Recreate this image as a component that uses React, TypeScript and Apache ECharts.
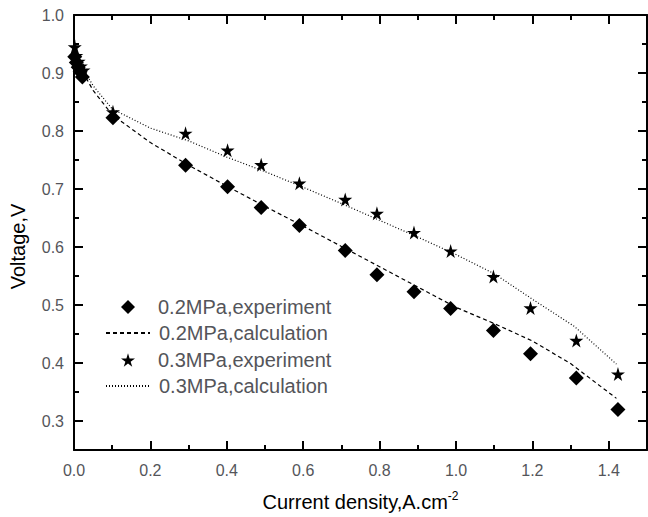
import React, { useEffect, useRef } from "react";
import * as echarts from "echarts";

const exp02X = [0.002, 0.006, 0.011, 0.016, 0.022, 0.102, 0.292, 0.402, 0.49, 0.59, 0.71, 0.793, 0.89, 0.986, 1.098, 1.195, 1.315, 1.424];
const exp02Y = [0.928, 0.918, 0.91, 0.902, 0.893, 0.823, 0.741, 0.704, 0.668, 0.637, 0.594, 0.552, 0.523, 0.494, 0.456, 0.416, 0.374, 0.32];

const exp03X = [0.002, 0.006, 0.012, 0.018, 0.025, 0.102, 0.292, 0.402, 0.49, 0.59, 0.71, 0.793, 0.89, 0.986, 1.098, 1.195, 1.315, 1.424];
const exp03Y = [0.945, 0.93, 0.92, 0.912, 0.905, 0.833, 0.796, 0.767, 0.742, 0.71, 0.682, 0.658, 0.625, 0.593, 0.549, 0.495, 0.439, 0.381];

const calc02X = [0, 0.01, 0.02, 0.05, 0.1, 0.2, 0.3, 0.4, 0.5, 0.6, 0.7, 0.8, 0.9, 1.0, 1.1, 1.2, 1.3, 1.42];
const calc02Y = [0.96, 0.925, 0.905, 0.87, 0.828, 0.78, 0.741, 0.705, 0.67, 0.636, 0.601, 0.566, 0.531, 0.496, 0.468, 0.438, 0.399, 0.339];

const calc03X = [0, 0.01, 0.02, 0.05, 0.1, 0.2, 0.3, 0.4, 0.5, 0.6, 0.7, 0.8, 0.9, 1.0, 1.1, 1.2, 1.31, 1.42];
const calc03Y = [0.962, 0.93, 0.912, 0.878, 0.838, 0.805, 0.783, 0.755, 0.73, 0.703, 0.675, 0.646, 0.617, 0.587, 0.554, 0.51, 0.463, 0.398];

const seriesNames = ["0.2MPa,experiment", "0.2MPa,calculation", "0.3MPa,experiment", "0.3MPa,calculation"];

const xLabels = [0, 0.2, 0.4, 0.6, 0.8, 1.0, 1.2, 1.4];
const yMajor = [0.3, 0.4, 0.5, 0.6, 0.7, 0.8, 0.9, 1.0];
const yMinor = [0.25, 0.35, 0.45, 0.55, 0.65, 0.75, 0.85, 0.95];

const STAR = "path://M50,0 L61,35 L98,35 L68,57 L79,91 L50,70 L21,91 L32,57 L2,35 L39,35 Z";
const FONT = "Liberation Sans";

const zip = (xs: number[], ys: number[]) => xs.map((x, i) => [x, ys[i]]);

export default function App() {
  const ref = useRef<HTMLDivElement>(null);
  useEffect(() => {
    if (!ref.current) return;
    const chart = echarts.init(ref.current, undefined, { renderer: "svg" });
    const xAxisOf = (pos: string, labels: boolean) => ({
      type: "value",
      position: pos,
      min: 0,
      max: 1.5,
      interval: 0.2,
      axisLine: { show: true, onZero: false, lineStyle: { color: "#000", width: 2 } },
      axisTick: { show: true, inside: true, length: 9, lineStyle: { color: "#000", width: 2 } },
      minorTick: { show: true, splitNumber: 2, length: 5, lineStyle: { color: "#000", width: 2 } },
      splitLine: { show: false },
      axisLabel: labels
        ? { show: true, margin: 12, fontSize: 16, customValues: xLabels, formatter: (v: number) => v.toFixed(1) }
        : { show: false },
    });
    const yAxisOf = (pos: string, major: boolean, labels: boolean) => ({
      type: "value",
      position: pos,
      min: 0.25,
      max: 1.0,
      splitLine: { show: false },
      axisLine: { show: major, onZero: false, lineStyle: { color: "#000", width: 2 } },
      axisTick: {
        show: true,
        inside: true,
        length: major ? 9 : 5,
        lineStyle: { color: "#000", width: 2 },
        customValues: major ? yMajor : yMinor,
      },
      axisLabel: labels
        ? { show: true, margin: 10, fontSize: 16, customValues: yMajor, formatter: (v: number) => v.toFixed(1) }
        : { show: false, customValues: yMajor },
    });
    const rowTops = [297, 323, 350, 376];
    const legends = seriesNames.map((n, i) => {
      const isScatter = i % 2 === 0;
      return {
        orient: "vertical",
        left: isScatter ? 121 : 105,
        top: rowTops[i],
        padding: 0,
        itemWidth: isScatter ? 14 : 44,
        itemHeight: 14,
        data: [isScatter ? { name: n } : { name: n, itemStyle: { opacity: 0 } }],
        textStyle: { fontSize: 20, padding: [0, 0, 0, isScatter ? 18 : 4] },
      };
    });
    const xBottom: any = xAxisOf("bottom", true);
    xBottom.name = "Current density,A.cm{sup|-2}";
    xBottom.nameLocation = "middle";
    xBottom.nameGap = 40;
    xBottom.nameTextStyle = {
      fontSize: 20,
      rich: { sup: { fontSize: 12, padding: [0, 0, 12, 0] } },
    };
    const yLeft: any = yAxisOf("left", true, true);
    yLeft.name = "Voltage,V";
    yLeft.nameLocation = "middle";
    yLeft.nameRotate = 90;
    yLeft.nameGap = 46;
    yLeft.nameTextStyle = { fontSize: 20, padding: [0, 28, 0, 0] };
    chart.setOption({
      animation: false,
      backgroundColor: "#fff",
      textStyle: { fontFamily: FONT, color: "#000" },
      grid: { left: 74, top: 15, right: 1, bottom: 67, outerBoundsMode: "none", containLabel: false },
      legend: legends,
      xAxis: [xBottom, xAxisOf("top", false)],
      yAxis: [
        yLeft,
        yAxisOf("right", true, false),
        yAxisOf("left", false, false),
        yAxisOf("right", false, false),
      ],
      series: [
        {
          name: seriesNames[0],
          type: "scatter",
          symbol: "diamond",
          symbolSize: 15,
          itemStyle: { color: "#000", opacity: 1 },
          data: zip(exp02X, exp02Y),
        },
        {
          name: seriesNames[1],
          type: "line",
          symbol: "none",
          lineStyle: { color: "#000", width: 1.2, type: [4, 3] },
          itemStyle: { color: "#000" },
          data: zip(calc02X, calc02Y),
        },
        {
          name: seriesNames[2],
          type: "scatter",
          symbol: STAR,
          symbolSize: 14,
          itemStyle: { color: "#000", opacity: 1 },
          data: zip(exp03X, exp03Y),
        },
        {
          name: seriesNames[3],
          type: "line",
          symbol: "none",
          lineStyle: { color: "#000", width: 1.2, type: [1, 2] },
          itemStyle: { color: "#000" },
          data: zip(calc03X, calc03Y),
        },
      ],
    });
    return () => chart.dispose();
  }, []);
  return <div ref={ref} style={{ width: 648, height: 517, position: "absolute", left: 0, top: 0 }} />;
}
